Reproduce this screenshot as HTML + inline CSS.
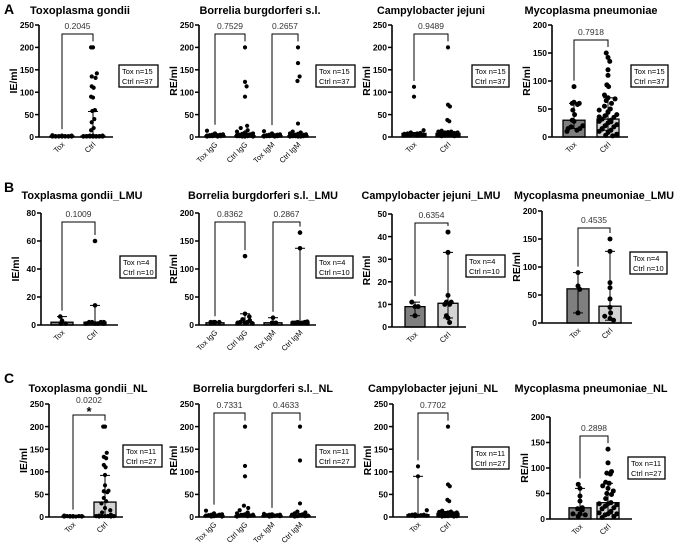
<!DOCTYPE html>
<html><head><meta charset="utf-8"><style>
html,body{margin:0;padding:0;background:#fff;}
svg{display:block;font-family:"Liberation Sans",Arial,sans-serif;}
</style></head><body>
<svg id="fig" width="675" height="548" viewBox="0 0 675 548" xmlns="http://www.w3.org/2000/svg"></svg>
<script>
// ---------- DATA ----------
const catsTwo = ['Tox','Ctrl'];
const catsBor = ['Tox IgG','Ctrl IgG','Tox IgM','Ctrl IgM'];

const A1_bars=[2,2]; const A1_lo=[0,0]; const A1_hi=[3,57];
const A1_pts=[[4,3,3,2,2,2,2,2,1,1,1,1,1,1,1],[200,200,142,135,132,113,110,90,88,60,58,40,33,20,15,3,3,3,2,2,2,2,2,2,2,2,2,1,1,1,1,1,1,1,1,1,1]];
const A2_bars=[3,3,3,3]; const A2_lo=[0,0,0,0]; const A2_hi=[6,8,6,8];
const A2_pts=[[14,8,6,5,5,4,4,3,3,3,2,2,2,1,1],[200,123,113,90,25,20,15,12,10,8,7,6,5,5,4,4,3,3,3,2,2,2,1,1,1],[13,8,6,5,5,4,4,3,3,3,2,2,2,1,1],[200,165,135,125,30,12,10,8,7,6,5,5,4,4,3,3,3,2,2,2,1,1,1]];
const A3_bars=[8,8]; const A3_lo=[0,0]; const A3_hi=[10,12];
const A3_pts=[[112,90,15,10,9,8,8,7,6,5,5,4,4,3,3],[200,72,68,38,35,14,12,12,11,10,10,9,9,8,8,7,7,6,6,5,5,4,4,3,3,2,2]];
const A4_bars=[30,32]; const A4_lo=[15,12]; const A4_hi=[60,70];
const A4_pts=[[90,62,60,60,58,48,40,30,28,20,18,15,15,12,10],[150,142,135,120,110,93,90,75,70,68,65,60,55,50,48,45,40,38,35,32,30,28,25,22,20,18,15,12,10,8,5,3,2,14,27,36,44]];

const B1_bars=[2,2]; const B1_lo=[0,0]; const B1_hi=[6,14];
const B1_pts=[[6,3,1,1],[60,14,2,2,2,2,1,1,1,1]];
const B2_bars=[4,4,4,5]; const B2_lo=[0,0,0,0]; const B2_hi=[5,20,13,137];
const B2_pts=[[5,5,5,5],[123,20,15,10,8,5,5,4,4,3],[13,4,4,4],[165,137,6,5,5,4,4,4,3,3]];
const B3_bars=[9,10.5]; const B3_lo=[5,4]; const B3_hi=[11,33];
const B3_pts=[[11,9,9,5],[42,33,14,11,11,10,10,5,4,2]];
const B4_bars=[61,30]; const B4_lo=[18,5]; const B4_hi=[90,128];
const B4_pts=[[90,66,60,18],[150,128,72,63,43,28,18,12,8,5]];

const C1_bars=[2,33]; const C1_lo=[0,0]; const C1_hi=[3,92];
const C1_pts=[[3,2,2,2,2,2,1,1,1,1,1],[200,200,142,133,130,115,110,93,70,58,57,55,42,35,30,20,15,10,5,3,2,2,2,2,2,1,1]];
const C2_bars=[3,3,3,3]; const C2_lo=[0,0,0,0]; const C2_hi=[6,8,5,8];
const C2_pts=[[14,8,6,5,5,4,3,3,2,1,1],[200,113,90,25,20,15,10,8,6,5,4,3,3,2,1],[7,6,5,5,4,4,3,3,2,2,1],[200,125,30,12,10,8,6,5,4,3,2,2,1]];
const C3_bars=[5,8]; const C3_lo=[0,0]; const C3_hi=[90,12];
const C3_pts=[[112,90,15,6,5,5,4,4,3,3,2],[200,72,68,38,35,14,12,11,10,10,9,8,8,7,6,6,5,5,4,4,3,3,2,2,2,1,1]];
const C4_bars=[22,32]; const C4_lo=[8,10]; const C4_hi=[60,70];
const C4_pts=[[68,60,45,35,22,20,18,10,10,8,5],[137,110,93,90,88,72,70,65,60,55,50,48,40,32,30,30,28,25,22,20,15,12,10,10,8,5,3]];

const pA1=['0.2045']; const pA2=['0.7529','0.2657']; const pA3=['0.9489']; const pA4=['0.7918'];
const pB1=['0.1009']; const pB2=['0.8362','0.2867']; const pB3=['0.6354']; const pB4=['0.4535'];
const pC1=['0.0202']; const pC2=['0.7331','0.4633']; const pC3=['0.7702']; const pC4=['0.2898'];

// ---------- LAYOUT ----------
const NS='http://www.w3.org/2000/svg';
const svg=document.getElementById('fig');
function mk(tag,attrs,parent){const e=document.createElementNS(NS,tag);for(const k in attrs)e.setAttribute(k,attrs[k]);(parent||svg).appendChild(e);return e;}

function panel(L,cats,bars,lo,hi,pts,pvals,id){
  const g=mk('g',{});
  
  
  const y=v=>L.yBot-(v/L.ymax)*(L.yBot-L.yTop);
  const t=mk('text',{x:L.tx-L.tw/2,y:L.ty,'font-size':11,'font-weight':'bold',fill:'#000',textLength:L.tw,lengthAdjust:'spacingAndGlyphs'},g);
  t.textContent=L.title;
  
  
  const yl=mk('text',{x:0,y:0,transform:`translate(${L.ax-22},${(L.yTop+L.yBot)/2}) rotate(-90)`,'text-anchor':'middle','font-size':10.5,'font-weight':'bold'},g);
  yl.textContent=L.ylab;
  
  
  for(let v=0;v<=L.ymax+1e-9;v+=L.step){
    mk('line',{x1:L.ax-4,x2:L.ax,y1:y(v),y2:y(v),stroke:'#000','stroke-width':1.5},g);
    const tl=mk('text',{x:L.ax-5,y:y(v)+3.2,'text-anchor':'end','font-size':8.5,'font-weight':'bold'},g);
    tl.textContent=v;
    
    
  }
  cats.forEach((c,i)=>{
    const cx=L.cx[i], bw=L.bw;
    const fill=c.startsWith('Tox')?'#7f7f7f':'#d4d4d4';
    const b=mk('rect',{x:cx-bw/2,y:y(bars[i]),width:bw,height:Math.max(0,L.yBot-y(bars[i])),fill:fill,stroke:'#000','stroke-width':1.3},g);
    
    
    const arr=pts[i];
    arr.forEach((v,k)=>{
      const near=arr.filter(w=>Math.abs(y(w)-y(v))<5).length;
      const amp=Math.min(1,(near-1)/5);
      const off=((k*3%7)-3)*(bw/7.5)*amp;
      const p=mk('circle',{cx:cx+off,cy:y(v),r:L.r,fill:'#000'},g);
      
      
    });
    mk('line',{x1:cx,x2:cx,y1:y(lo[i]),y2:y(hi[i]),stroke:'#000','stroke-width':1},g);
    mk('line',{x1:cx-5,x2:cx+5,y1:y(hi[i]),y2:y(hi[i]),stroke:'#000','stroke-width':1},g);
    mk('line',{x1:cx-5,x2:cx+5,y1:y(lo[i]),y2:y(lo[i]),stroke:'#000','stroke-width':1},g);
    const xl=mk('text',{x:0,y:0,transform:`translate(${cx+3},${L.yBot+8}) rotate(-45)`,'text-anchor':'end','font-size':7.5,fill:'#000'},g);
    xl.textContent=c;
    
    
  });
  mk('line',{x1:L.ax,x2:L.ax,y1:L.yTop,y2:L.yBot,stroke:'#000','stroke-width':1.6},g);
  mk('line',{x1:L.ax,x2:L.axEnd,y1:L.yBot,y2:L.yBot,stroke:'#000','stroke-width':1.6},g);
  pvals.forEach((p,k)=>{
    const i=k*2,j=k*2+1, by=L.yTop+L.bOff;
    const mi=Math.max(...pts[i],hi[i]), mj=Math.max(...pts[j],hi[j]);
    mk('path',{d:`M${L.cx[i]},${Math.max(by,y(mi)-6)} V${by} H${L.cx[j]} V${Math.max(by+3,y(mj)-6)}`,fill:'none',stroke:'#000','stroke-width':1},g);
    const pt=mk('text',{x:(L.cx[i]+L.cx[j])/2,y:by-(L.star?12:5),'text-anchor':'middle','font-size':8.5,fill:'#333'},g);
    pt.textContent=p;
    
    
    if(L.star){const s=mk('text',{x:(L.cx[i]+L.cx[j])/2,y:by+1,'text-anchor':'middle','font-size':13,'font-weight':'bold'},g);s.textContent='*';
      
      }
  });
  const lg=mk('g',{},g);
  
  
  mk('rect',{x:L.lx,y:L.ly,width:L.lw,height:22,fill:'#fff',stroke:'#000','stroke-width':1.3},lg);
  const l1=mk('text',{x:L.lx+3,y:L.ly+9,'font-size':7.5},lg); l1.textContent=L.n1;
  const l2=mk('text',{x:L.lx+3,y:L.ly+19,'font-size':7.5},lg); l2.textContent=L.n2;
}

function letter(s,x,yy){const t=mk('text',{x:x,y:yy,'font-size':14,'font-weight':'bold'});t.textContent=s;
  
  }
letter('A',4,14); letter('B',4,192); letter('C',4,383);

const base={r:2.1,bOff:9};
function L(o){return Object.assign({},base,o);}
panel(L({title:'Toxoplasma gondii',tx:80,tw:100,ty:14,ylab:'IE/ml',ax:39,axEnd:113,yTop:25,yBot:137,ymax:250,step:50,cx:[62,93],bw:24,lx:119,ly:65,lw:39,n1:'Tox n=15',n2:'Ctrl n=37'}),catsTwo,A1_bars,A1_lo,A1_hi,A1_pts,pA1,'a1');
panel(L({title:'Borrelia burgdorferi s.l.',tx:260,tw:121,ty:14,ylab:'RE/ml',ax:199,axEnd:316,yTop:25,yBot:137,ymax:250,step:50,cx:[215,245,272,298],bw:20,lx:316,ly:65,lw:39,n1:'Tox n=15',n2:'Ctrl n=37'}),catsBor,A2_bars,A2_lo,A2_hi,A2_pts,pA2,'a2');
panel(L({title:'Campylobacter jejuni',tx:431,tw:108,ty:14,ylab:'RE/ml',ax:392,axEnd:468,yTop:25,yBot:137,ymax:250,step:50,cx:[414,448],bw:24,lx:472,ly:65,lw:37,n1:'Tox n=15',n2:'Ctrl n=37'}),catsTwo,A3_bars,A3_lo,A3_hi,A3_pts,pA3,'a3');
panel(L({title:'Mycoplasma pneumoniae',tx:591,tw:133,ty:14,ylab:'RE/ml',ax:552,axEnd:628,yTop:25,yBot:137,ymax:200,step:50,cx:[574,608],bw:22,r:2.5,bOff:15,lx:631,ly:65,lw:37,n1:'Tox n=15',n2:'Ctrl n=37'}),catsTwo,A4_bars,A4_lo,A4_hi,A4_pts,pA4,'a4');
panel(L({title:'Toxplasma gondii_LMU',tx:82,tw:121,ty:199,ylab:'IE/ml',ax:41,axEnd:118,yTop:213,yBot:325,ymax:80,step:20,cx:[62,95],bw:22,r:2.3,lx:120,ly:256,lw:36,n1:'Tox n=4',n2:'Ctrl n=10'}),catsTwo,B1_bars,B1_lo,B1_hi,B1_pts,pB1,'b1');
panel(L({title:'Borrelia burgdorferi s.l._LMU',tx:263,tw:150,ty:199,ylab:'RE/ml',ax:199,axEnd:316,yTop:213,yBot:325,ymax:200,step:50,cx:[215,245,273,300],bw:18,r:2.3,lx:316,ly:256,lw:37,n1:'Tox n=4',n2:'Ctrl n=10'}),catsBor,B2_bars,B2_lo,B2_hi,B2_pts,pB2,'b2');
panel(L({title:'Campylobacter jejuni_LMU',tx:431,tw:139,ty:199,ylab:'RE/ml',ax:392,axEnd:466,yTop:214,yBot:327,ymax:50,step:10,cx:[415,448],bw:20,r:2.5,lx:466,ly:255,lw:39,n1:'Tox n=4',n2:'Ctrl n=10'}),catsTwo,B3_bars,B3_lo,B3_hi,B3_pts,pB3,'b3');
panel(L({title:'Mycoplasma pneumoniae_LMU',tx:594,tw:160,ty:199,ylab:'RE/ml',ax:542,axEnd:632,yTop:211,yBot:323,ymax:200,step:50,cx:[578,610],bw:22,r:2.5,bOff:17,lx:630,ly:252,lw:37,n1:'Tox n=4',n2:'Ctrl n=10'}),catsTwo,B4_bars,B4_lo,B4_hi,B4_pts,pB4,'b4');
panel(L({title:'Toxoplasma gondii_NL',tx:88,tw:119,ty:392,ylab:'IE/ml',ax:49,axEnd:123,yTop:404,yBot:517,ymax:250,step:50,cx:[73,105],bw:22,star:true,bOff:11,lx:123,ly:445,lw:39,n1:'Tox n=11',n2:'Ctrl n=27'}),catsTwo,C1_bars,C1_lo,C1_hi,C1_pts,pC1,'c1');
panel(L({title:'Borrelia burgdorferi s.l._NL',tx:263,tw:140,ty:392,ylab:'RE/ml',ax:199,axEnd:316,yTop:404,yBot:517,ymax:250,step:50,cx:[214,245,272,300],bw:20,lx:316,ly:445,lw:39,n1:'Tox n=11',n2:'Ctrl n=27'}),catsBor,C2_bars,C2_lo,C2_hi,C2_pts,pC2,'c2');
panel(L({title:'Campylobacter jejuni_NL',tx:433,tw:130,ty:392,ylab:'RE/ml',ax:393,axEnd:468,yTop:404,yBot:517,ymax:250,step:50,cx:[418,448],bw:22,lx:472,ly:447,lw:37,n1:'Tox n=11',n2:'Ctrl n=27'}),catsTwo,C3_bars,C3_lo,C3_hi,C3_pts,pC3,'c3');
panel(L({title:'Mycoplasma pneumoniae_NL',tx:591,tw:153,ty:392,ylab:'RE/ml',ax:550,axEnd:632,yTop:417,yBot:519,ymax:200,step:50,cx:[580,608],bw:22,r:2.5,bOff:19,lx:628,ly:457,lw:37,n1:'Tox n=11',n2:'Ctrl n=27'}),catsTwo,C4_bars,C4_lo,C4_hi,C4_pts,pC4,'c4');
</script>
</body></html>
